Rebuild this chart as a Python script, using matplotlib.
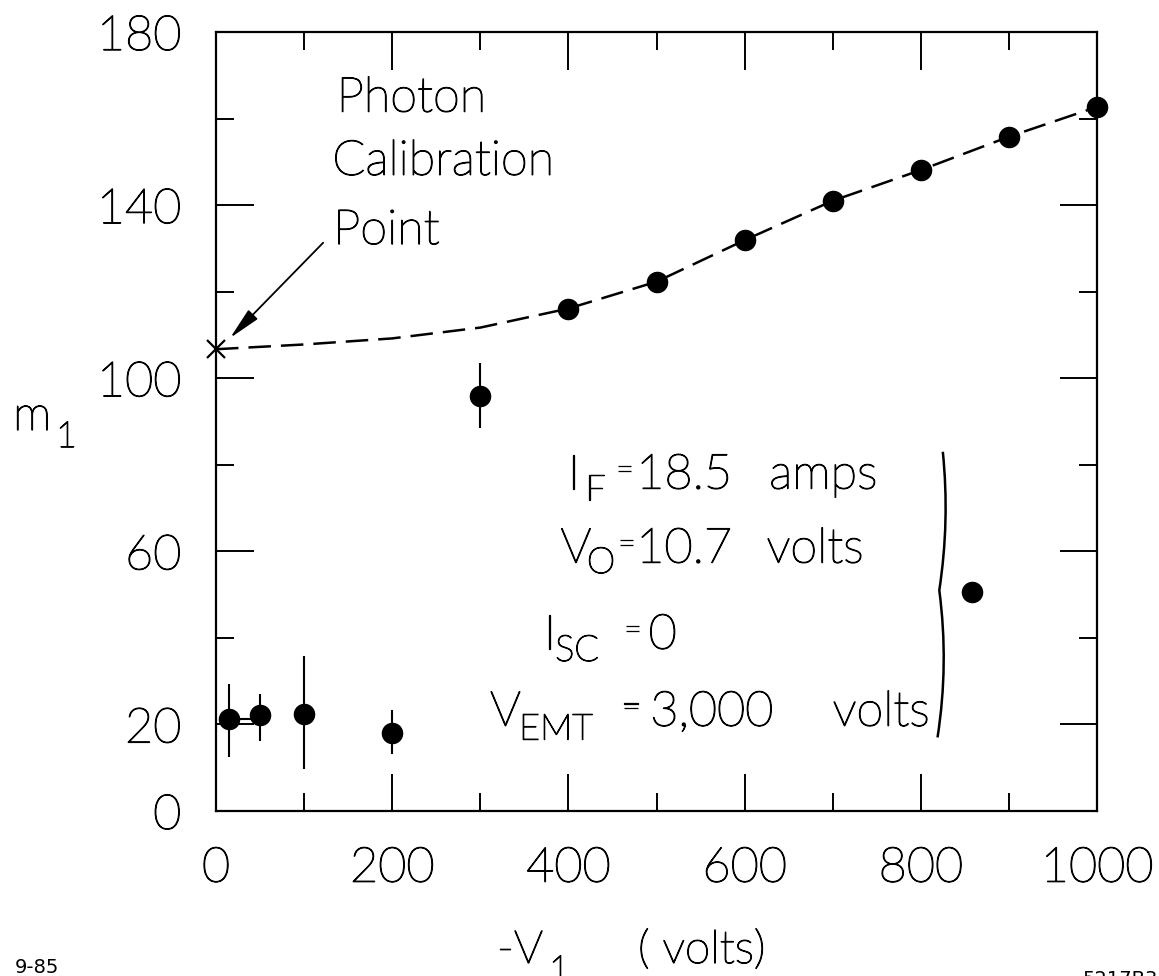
import matplotlib
matplotlib.use('Agg')
from matplotlib import pyplot as plt
from matplotlib.path import Path
from matplotlib.patches import PathPatch
import matplotlib.patheffects as pe

plt.rcParams['font.family'] = ['Lato', 'DejaVu Sans']

# points on the dashed curve (-V1 in volts, m1)
v_fit = [400, 500, 600, 700, 800, 900, 1000]
m_fit = [116.1, 122.3, 131.9, 141.0, 148.1, 155.8, 162.7]

# low voltage points with error bars
v_low = [15, 50, 100, 200, 300]
m_low = [21.3, 22.2, 22.5, 18.0, 95.8]
err_lo = [8.8, 6.0, 12.8, 4.8, 7.4]
err_hi = [8.1, 4.8, 13.4, 5.4, 7.7]
xerr_lo = [0, 0, 0, 0, 0]
xerr_hi = [35, 0, 0, 0, 0]

# the lone point next to the brace
v_iso = [858]
m_iso = [50.5]

# photon calibration point and the dashed guide line
v_cal = [0]
m_cal = [106.7]
curve_v = [0, 100, 200, 300, 400, 500, 600, 700, 800, 900, 1000]
curve_m = [106.7, 107.8, 109.2, 111.7, 116.1, 122.3, 131.9, 141.0, 148.1, 155.8, 162.7]

x_major = [0, 200, 400, 600, 800, 1000]
x_minor = [100, 300, 500, 700, 900]
y_major = [0, 20, 60, 100, 140, 180]
y_minor = [40, 80, 120, 160]

W, H = 1159, 976
fig = plt.figure(figsize=(W / 100, H / 100), dpi=100)
ax = fig.add_axes([216 / W, 1 - 811 / H, (1097 - 216) / W, (811 - 32) / H])

LW = 'light'
FS = 35
SUB = 26
# light font is a bit too thin, thicken it a little
thick = [pe.withStroke(linewidth=0.9, foreground='black')]

# dashed guide
ax.plot(curve_v, curve_m, color='black', lw=1.8, dashes=(9, 4), zorder=2)
ax.plot(v_cal, m_cal, marker='x', color='black', ms=13, mew=1.6, ls='none', clip_on=False, zorder=4)

# data points
ax.plot(v_fit, m_fit, 'o', color='black', ms=14.5, clip_on=False, zorder=3)
ax.errorbar(v_low, m_low, yerr=[err_lo, err_hi], xerr=[xerr_lo, xerr_hi], fmt='o', color='black',
            ms=14.5, elinewidth=1.5, capsize=0, clip_on=False, zorder=3)
ax.plot(v_iso, m_iso, 'o', color='black', ms=14.5, zorder=3)

ax.set_xlim(0, 1000)
ax.set_ylim(0, 180)
ax.set_xticks(x_major)
ax.set_xticks(x_minor, minor=True)
ax.set_yticks(y_major)
ax.set_yticks(y_minor, minor=True)
ax.set_xticklabels([str(v) for v in x_major], fontsize=FS, fontweight=LW)
ax.set_yticklabels([str(v) for v in y_major], fontsize=FS, fontweight=LW)
for lab in ax.get_xticklabels() + ax.get_yticklabels():
    lab.set_path_effects(thick)
ax.tick_params(which='both', direction='in', top=True, right=True, width=1.4, color='black')
ax.tick_params(which='major', length=27, pad=25)
ax.tick_params(which='minor', length=13)
for s in ax.spines.values():
    s.set_linewidth(1.6)

# photon calibration label with arrow
for txt, x, y in [('Photon', 137, 161.6), ('Calibration', 132, 147), ('Point', 133, 131)]:
    ax.text(x, y, txt, fontsize=FS, fontweight=LW, va='baseline', path_effects=thick)
ax.annotate('', xy=(16, 109.3), xytext=(121.6, 131.3),
            arrowprops=dict(arrowstyle='-|>,head_length=0.9,head_width=0.18', lw=1.3,
                            color='black', shrinkA=0, shrinkB=0, mutation_scale=22))


def put(x, y, s, size=FS):
    ax.text(x, y, s, fontsize=size, fontweight=LW, va='baseline', ha='left', path_effects=thick)


# run conditions
put(399, 74.5, 'I'); put(419, 71.8, 'F', SUB); put(453, 76.5, '=', 24); put(477, 74.5, '18.5'); put(628, 74.5, 'amps')
put(391, 57.4, 'V'); put(421, 55.0, 'O', SUB); put(455, 59.4, '=', 24); put(477, 57.4, '10.7'); put(625, 57.4, 'volts')
put(372, 37.5, 'I'); put(385, 34.7, 'SC', SUB); put(462, 39.5, '=', 24); put(491, 37.5, '0')
put(311, 19.7, 'V'); put(344, 16.5, 'EMT', SUB); put(460, 21.7, '=', 24); put(493, 19.7, '3,000'); put(700, 19.7, 'volts')

# brace
brace = Path([(825, 83), (833, 67), (821, 51), (832, 34), (819, 17)],
             [Path.MOVETO, Path.CURVE3, Path.CURVE3, Path.CURVE3, Path.CURVE3])
ax.add_patch(PathPatch(brace, fill=False, lw=1.8, color='black'))

# axis labels
fig.text(13 / W, 1 - 430 / H, 'm', fontsize=FS, fontweight=LW, va='baseline', path_effects=thick)
fig.text(56 / W, 1 - 447 / H, '1', fontsize=SUB, fontweight=LW, va='baseline', path_effects=thick)
fig.text(497 / W, 1 - 963 / H, '-V', fontsize=33, fontweight=LW, va='baseline', path_effects=thick)
fig.text(549 / W, 1 - 981 / H, '1', fontsize=SUB, fontweight=LW, va='baseline', path_effects=thick)
fig.text(638 / W, 1 - 963 / H, '( volts)', fontsize=33, fontweight=LW, va='baseline', path_effects=thick)

fig.text(15 / W, 1 - 973 / H, '9-85', fontsize=14, family='DejaVu Sans', va='baseline')
fig.text(1082 / W, 1 - 970 / H, '5217B3', fontsize=14, family='DejaVu Sans', va='top')

fig.savefig('out.png', dpi=100)
